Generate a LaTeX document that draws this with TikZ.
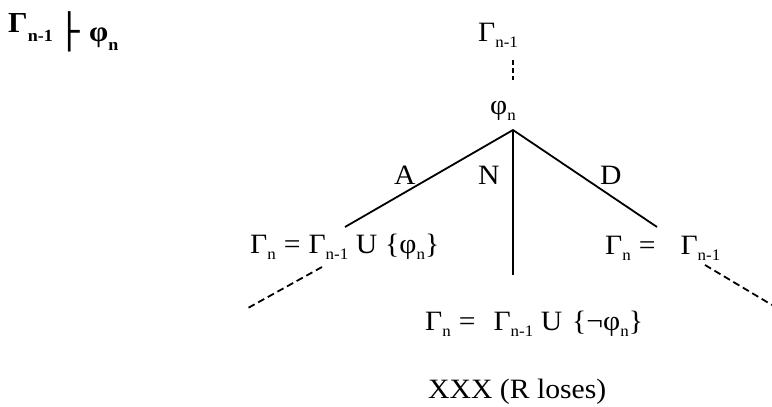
\documentclass[tikz,border=0pt]{standalone}
\usepackage{fontspec}
\setmainfont[FakeStretch=1.06]{Liberation Serif}
\newfontfamily\boxfont{DejaVu Sans Mono}
\newcommand{\sbs}[1]{\raisebox{-6pt}{\fontsize{16}{16}\selectfont #1}}
\newcommand{\sbb}[1]{\raisebox{-9pt}{\fontsize{17}{17}\selectfont\bfseries #1}}
\tikzset{
  txt/.style={inner sep=0pt, anchor=base west, font=\fontsize{28}{30}\selectfont},
  hdr/.style={inner sep=0pt, anchor=base west, font=\fontsize{29}{30}\selectfont\bfseries},
  edge/.style={line width=1.8pt},
  dline/.style={line width=1.8pt, dash pattern=on 7pt off 4pt},
  vdline/.style={line width=1.8pt, dash pattern=on 5pt off 3pt}
}
\begin{document}
\begin{tikzpicture}[x=1pt,y=-1pt]
\useasboundingbox (0,0) rectangle (772,407);
% header
\node[hdr] (hg) at (8,32) {Γ\sbb{n-1}};
\node[inner sep=0pt, anchor=base west, font=\fontsize{34}{34}\selectfont\boxfont] (ts) at (59,43) {├};
\node[hdr] (hp) at (89,41) {φ\sbb{n}};
% tree
\node[txt] (top) at (478,41) {Γ\sbs{n-1}};
\node[txt] (phi) at (490,114) {φ\sbs{n}};
\coordinate (dtop) at (513,60);
\coordinate (dbot) at (513,80);
\draw[vdline] (dtop) -- (dbot);
\coordinate (apex) at (513,130);
\coordinate (lend) at (345,227);
\coordinate (mend) at (513,275);
\coordinate (rend) at (657,227);
\draw[edge] (lend) -- (apex) -- (rend);
\draw[edge] (apex) -- (mend);
\node[txt] (A) at (394,184) {A};
\node[txt] (N) at (478,184) {N};
\node[txt] (D) at (600,184) {D};
\node[txt] (left) at (250,253) {Γ\sbs{n}\hspace{8pt}=\hspace{8pt}Γ\sbs{n-1} U\hspace{8pt}\{φ\sbs{n}\}};
\node[txt] (right) at (605,254) {Γ\sbs{n}\hspace{8pt}=\hspace{25pt}Γ\sbs{n-1}};
\node[txt] (mid) at (425,330) {Γ\sbs{n}\hspace{8pt}=\hspace{18pt}Γ\sbs{n-1} U\hspace{10pt}\{¬φ\sbs{n}\}};
\node[txt] (xxx) at (428,398) {XXX (R loses)};
\coordinate (l1) at (322,267);
\coordinate (l2) at (248,308);
\coordinate (r1) at (705,265);
\coordinate (r2) at (772,305);
\draw[dline] (l1) -- (l2);
\draw[dline] (r1) -- (r2);
\end{tikzpicture}
\end{document}
